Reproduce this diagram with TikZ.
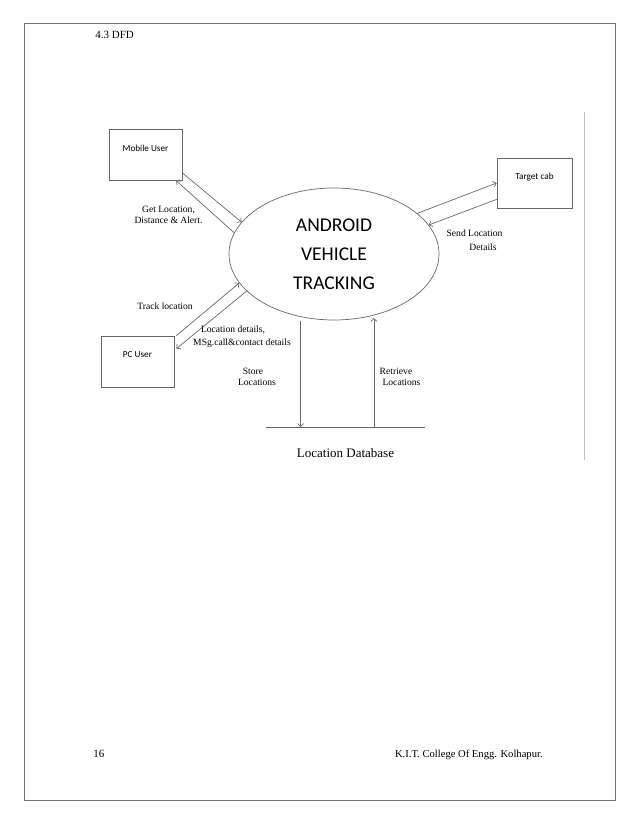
\documentclass[tikz,border=0pt]{standalone}
\usepackage{fontspec}
\setmainfont{Liberation Serif}
\newfontfamily\boxfont{Carlito}
\usetikzlibrary{arrows.meta,shapes.geometric,calc}

\begin{document}
\begin{tikzpicture}[x=1pt,y=-1pt,->,>={Straight Barb[length=3pt,width=6pt]},draw=black!60,line width=0.7pt]
    \tikzstyle{entity}=[rectangle,draw,minimum width=73pt,minimum height=51pt,inner sep=0pt,text depth=13pt,font=\boxfont\fontsize{9.2}{11}\selectfont]
    \tikzstyle{process}=[ellipse,draw,minimum width=210pt,minimum height=132pt,inner sep=0pt,align=center,font=\boxfont\fontsize{19.5}{29}\selectfont]
    \tikzstyle{flow}=[inner sep=0pt,align=center,font=\fontsize{9.6}{11}\selectfont]
    \tikzstyle{pagetext}=[inner sep=0pt,font=\fontsize{11}{14}\selectfont]
    \tikzstyle{page}=[-,draw=black!55]

    \useasboundingbox (0,0) rectangle (638,826);
    \draw[page] (24,23) rectangle (615,800);
    \draw[page,draw=black!25] (584,112) -- (584,460);

    \node[pagetext,anchor=base west] (title) at (95,39) {4.3 DFD};
    \node[pagetext,anchor=base west] (pagenum) at (93,757) {16};
    \node[pagetext,anchor=base east,font=\fontsize{10.6}{14}\selectfont] (college) at (543,757) {K.I.T. College Of Engg. Kolhapur.};

    \node[entity] (mobile) at (145.5,155) {Mobile User};
    \node[entity,minimum width=75pt,minimum height=50pt] (target) at (534.5,183) {Target cab};
    \node[entity] (pc) at (137.5,361.5) {PC User};
    \node[process] (dfd) at (334,254) {ANDROID\\VEHICLE\\TRACKING};

    \draw ($(mobile.south east)+(0,-8)$) -- (dfd.161.4);
    \draw (dfd.168.3) -- ($(mobile.south east)+(-6,0)$);
    \draw (dfd.26.3) -- (target.west);
    \draw ($(target.south west)+(0,-9)$) -- (dfd.17.9);
    \draw ($(pc.north east)+(2,0)$) -- (dfd.197.9);
    \draw (dfd.203.7) -- ($(pc.north east)+(2,13)$);

    \coordinate (dbleft) at (266,427);
    \coordinate (dbright) at (425,427);
    \draw[-] (dbleft) -- (dbright);
    \draw[shorten <=4.5pt] (dfd.-118.6) -- (dfd.-118.6 |- dbleft);
    \draw[shorten >=2.5pt] (dfd.-57.5 |- dbright) -- (dfd.-57.5);
    \node[flow,font=\fontsize{13}{15}\selectfont] (db) at (345.5,453) {Location Database};

    \node[flow] (getlbl) at (168.5,215) {Get Location,\\Distance \& Alert.};
    \node[flow,font=\fontsize{9.6}{14}\selectfont] (sendlbl) at (474.5,240) {Send Location\\\hspace*{17pt}Details};
    \node[flow] (tracklbl) at (165,306) {Track location};
    \node[flow,font=\fontsize{9.6}{13}\selectfont] (detaillbl) at (242,336.5) {Location details,\hspace*{18pt}\\MSg.call\&contact details};
    \node[flow] (storelbl) at (257,376.5) {Store\hspace*{8pt}\\Locations};
    \node[flow] (retrievelbl) at (401.5,376.5) {Retrieve\hspace*{11pt}\\Locations};
\end{tikzpicture}
\end{document}
